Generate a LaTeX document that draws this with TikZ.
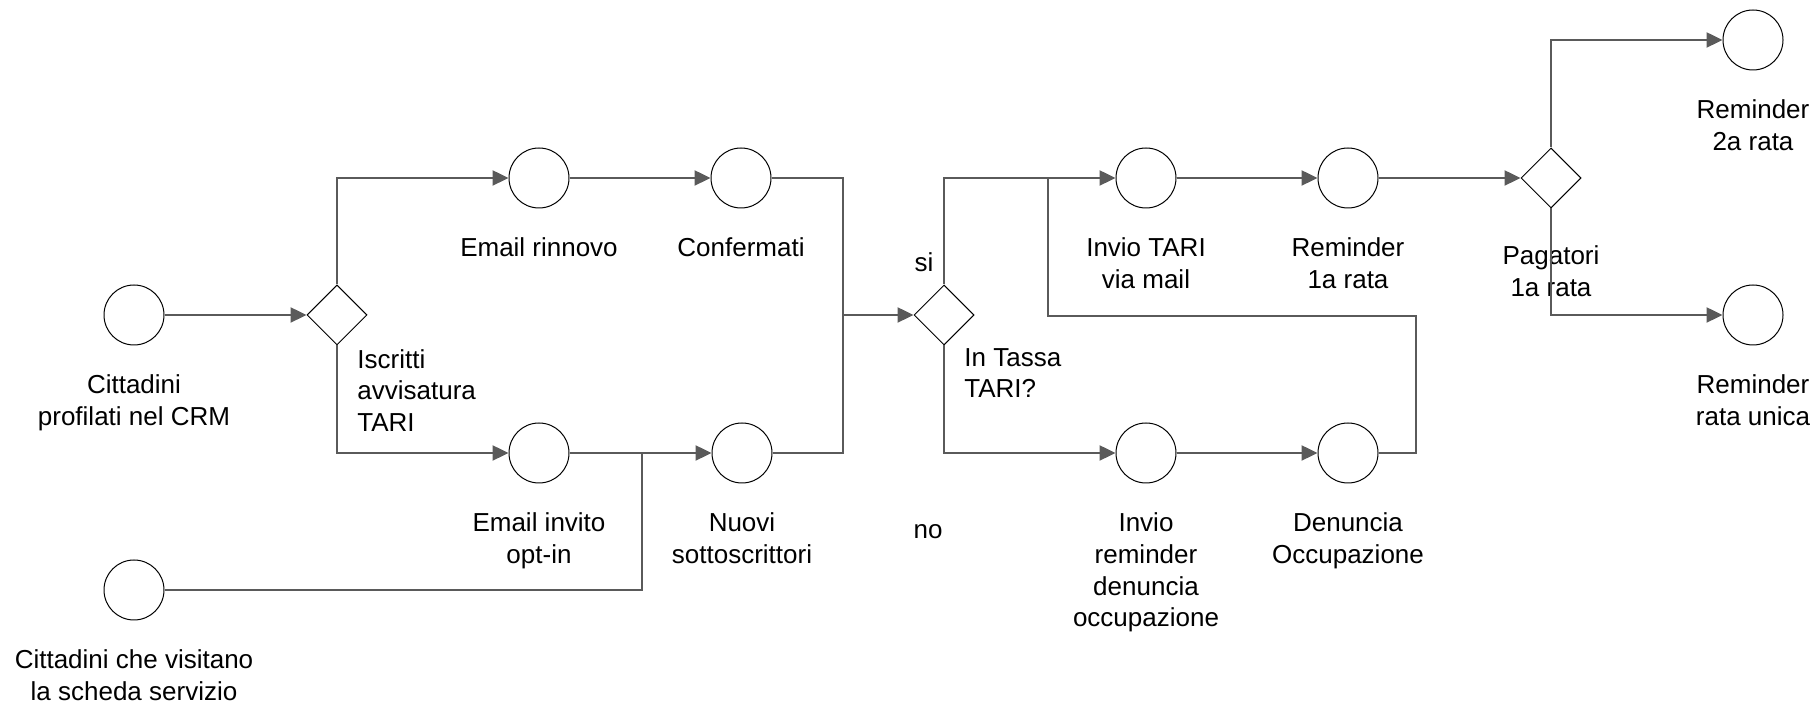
\documentclass[tikz,border=0pt]{standalone}
\usepackage{fontspec}
\setmainfont{Liberation Sans}
\definecolor{flowcolor}{RGB}{90,90,90}
\usepackage{tikz}
\usetikzlibrary{arrows.meta, positioning, shapes.geometric, calc}

\begin{document}
\begin{tikzpicture}[
    x=0.5pt, y=-0.5pt,
    event/.style={circle, draw=black, line width=0.5pt, minimum size=30pt, inner sep=0pt},
    gate/.style={diamond, draw=black, line width=0.5pt, minimum width=30pt, minimum height=30pt, inner sep=0pt},
    caption/.style={inner sep=0pt, align=center, font=\fontsize{13}{15.8}\selectfont},
    gatecaption/.style={caption, align=left, anchor=north west},
    link/.style={draw=flowcolor, line width=1.2pt},
    flow/.style={link, -{Triangle[length=8pt, width=7.5pt]}}
]
    \useasboundingbox (0,0) rectangle (1816,704);

    \node[event] (crm) at (134,315) {};
    \node[event] (visita) at (134,590) {};
    \node[gate] (iscritti) at (337,315) {};
    \node[event] (rinnovo) at (539,178) {};
    \node[event] (confermati) at (741,178) {};
    \node[event] (invito) at (539,453) {};
    \node[event] (nuovi) at (742,453) {};
    \node[gate] (tassa) at (944,315) {};
    \node[event] (invioTari) at (1146,178) {};
    \node[event] (rem1) at (1348,178) {};
    \node[event] (invioRem) at (1146,453) {};
    \node[event] (denuncia) at (1348,453) {};
    \node[gate] (pagatori) at (1551,178) {};
    \node[event] (rem2) at (1753,40) {};
    \node[event] (remUnica) at (1753,315) {};

    \node[caption, below=14.6pt of crm] (crm-txt) {Cittadini\\profilati nel CRM};
    \node[caption, below=14.6pt of visita] (visita-txt) {Cittadini che visitano\\la scheda servizio};
    \node[caption, below=14.6pt of rinnovo] (rinnovo-txt) {Email rinnovo};
    \node[caption, below=14.6pt of confermati] (confermati-txt) {Confermati};
    \node[caption, below=14.6pt of invito] (invito-txt) {Email invito\\opt-in};
    \node[caption, below=14.6pt of nuovi] (nuovi-txt) {Nuovi\\sottoscrittori};
    \node[caption, below=14.6pt of invioTari] (invioTari-txt) {Invio TARI\\via mail};
    \node[caption, below=14.6pt of rem1] (rem1-txt) {Reminder\\1a rata};
    \node[caption, below=14.6pt of invioRem] (invioRem-txt) {Invio\\reminder\\denuncia\\occupazione};
    \node[caption, below=14.6pt of denuncia] (denuncia-txt) {Denuncia\\Occupazione};
    \node[caption, below=18.4pt of pagatori] (pagatori-txt) {Pagatori\\1a rata};
    \node[caption, below=14.6pt of rem2] (rem2-txt) {Reminder\\2a rata};
    \node[caption, below=14.6pt of remUnica] (remUnica-txt) {Reminder\\rata unica};
    \node[gatecaption] (iscritti-txt) at ([shift={(20,34)}]iscritti.center) {Iscritti\\avvisatura\\TARI};
    \node[gatecaption] (tassa-txt) at ([shift={(20,33)}]tassa.center) {In Tassa\\TARI?};
    \node[caption, anchor=base] (si-txt) at ([shift={(-20,-43)}]tassa.center) {si};
    \node[caption, anchor=base] (no-txt) at (928,539) {no};

    \coordinate (sub) at (642,453);
    \coordinate (merge) at (843,315);
    \coordinate (loopR) at (1416,316);
    \coordinate (back) at (1048,178);

    \draw[flow] (crm.east) -- (iscritti.west);
    \draw[flow] (iscritti.north) |- (rinnovo.west);
    \draw[flow] (iscritti.south) |- (invito.west);
    \draw[flow] (rinnovo) -- (confermati);
    \draw[flow] (invito) -- (nuovi);
    \draw[link] (visita.east) -| (sub);
    \draw[link] (confermati.east) -| (merge);
    \draw[link] (nuovi.east) -| (merge);
    \draw[flow] (merge) -- (tassa.west);
    \draw[flow] (tassa.north) |- (invioTari.west);
    \draw[flow] (tassa.south) |- (invioRem.west);
    \draw[flow] (invioTari) -- (rem1);
    \draw[flow] (rem1) -- (pagatori);
    \draw[flow] (pagatori.north) |- (rem2.west);
    \draw[flow] (pagatori.south) |- (remUnica.west);
    \draw[flow] (invioRem) -- (denuncia);
    \draw[link] (denuncia.east) -| (loopR) -| (back);
\end{tikzpicture}
\end{document}
